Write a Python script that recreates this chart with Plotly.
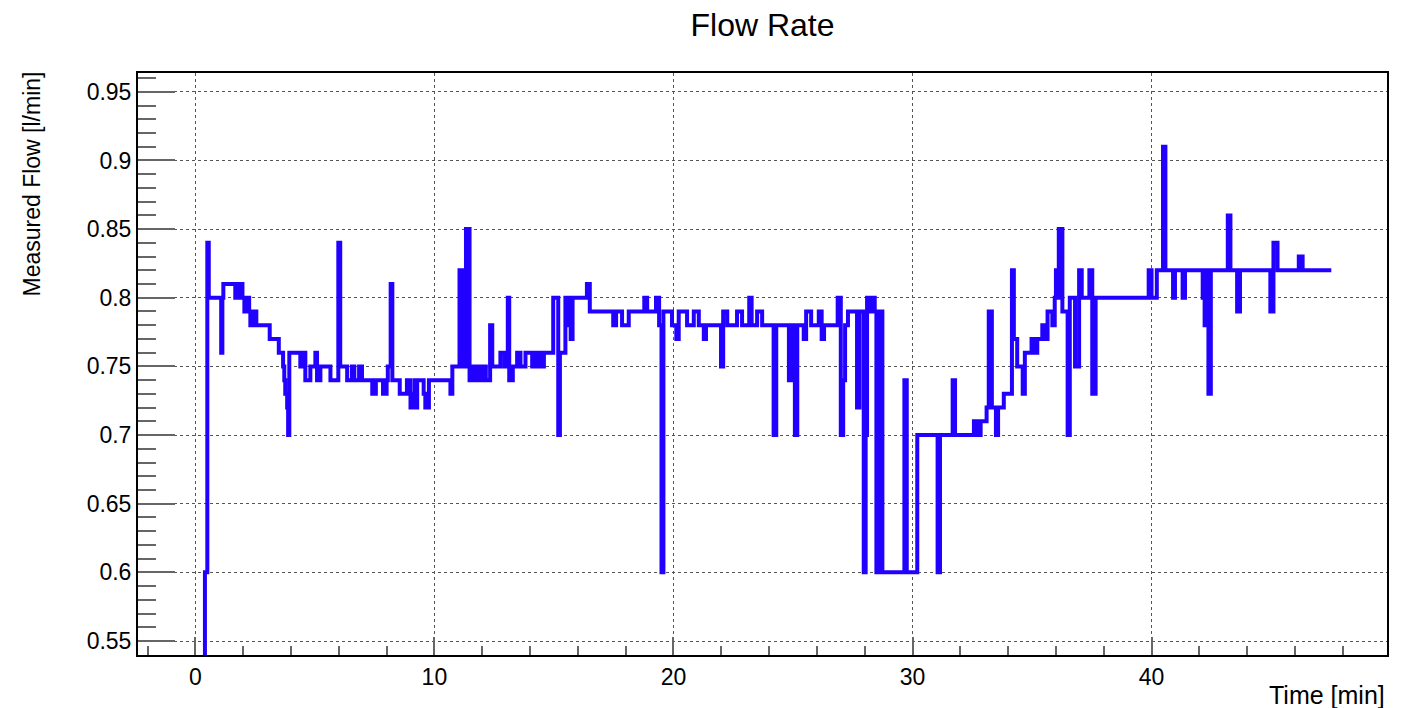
import plotly.graph_objects as go

# Flow-meter readings: time of each change [min] and the reading held from then on [l/min]
time_min = [
    0.37, 0.40, 0.50, 0.56, 1.08, 1.13, 1.17, 1.67, 1.72, 1.78, 1.83, 1.88, 1.93, 1.97, 2.05,
    2.10, 2.15, 2.20, 2.25, 2.30, 2.36, 2.42, 2.47, 2.55, 3.11, 3.49, 3.67, 3.72, 3.76, 3.84,
    3.88, 3.93, 4.39, 4.44, 4.49, 4.54, 4.60, 4.81, 5.02, 5.09, 5.23, 5.65, 5.98, 6.06, 6.35,
    6.55, 6.65, 6.85, 6.97, 7.40, 7.45, 7.50, 7.55, 7.85, 7.90, 7.95, 8.00, 8.05, 8.17, 8.24,
    8.55, 8.85, 9.00, 9.06, 9.12, 9.18, 9.22, 9.28, 9.55, 9.62, 9.67, 9.72, 9.77, 10.67, 10.75,
    11.05, 11.10, 11.15, 11.22, 11.27, 11.32, 11.37, 11.42, 11.47, 11.55, 11.60, 11.65, 11.70, 11.75, 11.82,
    11.88, 11.95, 12.00, 12.05, 12.10, 12.15, 12.33, 12.42, 12.76, 12.93, 13.07, 13.13, 13.28, 13.46, 13.60,
    13.81, 14.09, 14.14, 14.20, 14.25, 14.31, 14.36, 14.42, 14.48, 14.53, 14.58, 14.97, 15.18, 15.25, 15.48,
    15.60, 15.66, 15.70, 15.78, 16.38, 16.50, 17.48, 17.60, 17.85, 18.13, 18.78, 18.90, 19.27, 19.40, 19.50,
    19.58, 19.94, 20.12, 20.22, 20.57, 20.85, 21.06, 21.27, 21.36, 21.99, 22.08, 22.25, 22.66, 22.87, 23.17,
    23.27, 23.50, 23.71, 24.19, 24.30, 24.83, 24.88, 24.93, 24.98, 25.03, 25.08, 25.18, 25.45, 25.55, 25.76,
    26.08, 26.20, 26.30, 26.87, 27.00, 27.10, 27.18, 27.30, 27.68, 27.78, 27.96, 28.04, 28.10, 28.18, 28.23,
    28.30, 28.35, 28.42, 28.49, 28.54, 28.58, 28.62, 28.66, 28.70, 28.74, 29.66, 29.76, 30.20, 31.05, 31.15,
    31.68, 31.78, 32.57, 32.65, 32.72, 32.78, 32.85, 33.10, 33.19, 33.32, 33.49, 33.58, 33.82, 34.16, 34.24,
    34.38, 34.61, 34.70, 34.98, 35.12, 35.22, 35.43, 35.56, 35.65, 35.85, 35.95, 36.00, 36.06, 36.12, 36.18,
    36.22, 36.27, 36.49, 36.58, 36.80, 36.97, 37.08, 37.40, 37.52, 37.66, 39.88, 40.00, 40.22, 40.48, 40.58,
    40.90, 40.98, 41.30, 41.40, 42.14, 42.18, 42.22, 42.28, 42.32, 42.38, 42.48, 43.19, 43.30, 43.58, 43.70,
    44.97, 45.10, 45.27, 46.16, 46.32, 47.52,
]
flow_lpm = [
    0.50, 0.60, 0.84, 0.80, 0.76, 0.80, 0.81, 0.80, 0.81, 0.80, 0.81, 0.80, 0.81, 0.80, 0.79,
    0.80, 0.79, 0.80, 0.79, 0.78, 0.79, 0.78, 0.79, 0.78, 0.77, 0.76, 0.75, 0.74, 0.73, 0.72,
    0.70, 0.76, 0.75, 0.76, 0.75, 0.76, 0.74, 0.75, 0.76, 0.74, 0.75, 0.74, 0.84, 0.75, 0.74,
    0.75, 0.74, 0.75, 0.74, 0.73, 0.74, 0.73, 0.74, 0.73, 0.74, 0.73, 0.74, 0.75, 0.81, 0.74,
    0.73, 0.74, 0.72, 0.73, 0.72, 0.74, 0.72, 0.74, 0.73, 0.72, 0.73, 0.72, 0.74, 0.73, 0.75,
    0.82, 0.75, 0.82, 0.75, 0.82, 0.85, 0.75, 0.85, 0.74, 0.75, 0.74, 0.75, 0.74, 0.75, 0.74,
    0.75, 0.74, 0.75, 0.74, 0.75, 0.74, 0.78, 0.75, 0.76, 0.75, 0.80, 0.74, 0.75, 0.76, 0.75,
    0.76, 0.75, 0.76, 0.75, 0.76, 0.75, 0.76, 0.75, 0.76, 0.75, 0.76, 0.80, 0.70, 0.76, 0.80,
    0.78, 0.80, 0.77, 0.80, 0.81, 0.79, 0.78, 0.79, 0.78, 0.79, 0.80, 0.79, 0.80, 0.78, 0.60,
    0.79, 0.78, 0.77, 0.79, 0.78, 0.79, 0.78, 0.77, 0.78, 0.75, 0.79, 0.78, 0.79, 0.78, 0.80,
    0.78, 0.79, 0.78, 0.70, 0.78, 0.74, 0.78, 0.74, 0.78, 0.74, 0.70, 0.78, 0.77, 0.79, 0.78,
    0.79, 0.77, 0.78, 0.80, 0.70, 0.74, 0.78, 0.79, 0.72, 0.79, 0.60, 0.70, 0.80, 0.79, 0.80,
    0.79, 0.80, 0.79, 0.60, 0.79, 0.60, 0.79, 0.60, 0.79, 0.60, 0.74, 0.60, 0.70, 0.60, 0.70,
    0.74, 0.70, 0.71, 0.70, 0.71, 0.70, 0.71, 0.72, 0.79, 0.72, 0.70, 0.72, 0.73, 0.82, 0.77,
    0.75, 0.73, 0.76, 0.77, 0.76, 0.77, 0.78, 0.77, 0.79, 0.78, 0.80, 0.82, 0.80, 0.85, 0.80,
    0.85, 0.79, 0.70, 0.80, 0.75, 0.82, 0.80, 0.82, 0.73, 0.80, 0.82, 0.80, 0.82, 0.91, 0.82,
    0.80, 0.82, 0.80, 0.82, 0.80, 0.82, 0.78, 0.82, 0.78, 0.73, 0.82, 0.86, 0.82, 0.79, 0.82,
    0.79, 0.84, 0.82, 0.83, 0.82, 0.82,
]

x_range = [-2.4, 49.85]
y_range = [0.5398, 0.9637]
y_ticks = [0.55, 0.6, 0.65, 0.7, 0.75, 0.8, 0.85, 0.9, 0.95]
y_tick_text = ["0.55", "0.6", "0.65", "0.7", "0.75", "0.8", "0.85", "0.9", "0.95"]
x_ticks = [0, 10, 20, 30, 40]

FONT = "Liberation Sans, Arial, Helvetica, sans-serif"
TICK_GREY = "#666666"

fig = go.Figure(
    go.Scatter(
        x=time_min,
        y=flow_lpm,
        mode="lines",
        line=dict(color="#2200ff", width=4, shape="hv"),
        hoverinfo="x+y",
    )
)

fig.update_layout(
    width=1401,
    height=708,
    margin=dict(l=138, r=14, t=73, b=53),
    paper_bgcolor="white",
    plot_bgcolor="white",
    showlegend=False,
    font=dict(family=FONT, color="black", size=23),
    title=dict(
        text="Flow Rate",
        x=0.5,
        xref="paper",
        xanchor="center",
        y=1 - 25 / 708,
        yanchor="middle",
        font=dict(family=FONT, size=32, color="black"),
    ),
)

axis_common = dict(
    showline=True,
    linecolor="black",
    linewidth=2,
    mirror=True,
    showgrid=True,
    gridcolor="#555555",
    gridwidth=1,
    griddash="dot",
    zeroline=False,
    ticks="inside",
    tickcolor=TICK_GREY,
    tickwidth=1.5,
    tickfont=dict(family=FONT, size=23, color="black"),
)

fig.update_xaxes(
    **axis_common,
    range=x_range,
    tickvals=x_ticks,
    ticklen=18,
    minor=dict(dtick=2, tick0=0, ticks="inside", ticklen=9, tickcolor=TICK_GREY, tickwidth=1.5, showgrid=False),
)
fig.update_yaxes(
    **axis_common,
    range=y_range,
    tickvals=y_ticks,
    ticktext=y_tick_text,
    ticklen=37,
    minor=dict(dtick=0.01, tick0=0.5, ticks="inside", ticklen=18, tickcolor=TICK_GREY, tickwidth=1.5, showgrid=False),
)

# Axis titles placed at the far ends of each axis
fig.add_annotation(
    text="Time [min]",
    xref="paper", yref="paper",
    x=1.0, y=-(695 - 655) / 582,
    xanchor="right", yanchor="middle",
    showarrow=False,
    font=dict(family=FONT, size=25, color="black"),
)
fig.add_annotation(
    text="Measured Flow [l/min]",
    xref="paper", yref="paper",
    x=(31 - 138) / 1249, y=1.0 + 3 / 582,
    xanchor="center", yanchor="top",
    textangle=-90,
    showarrow=False,
    font=dict(family=FONT, size=23, color="black"),
)

fig.write_html("out.html")
